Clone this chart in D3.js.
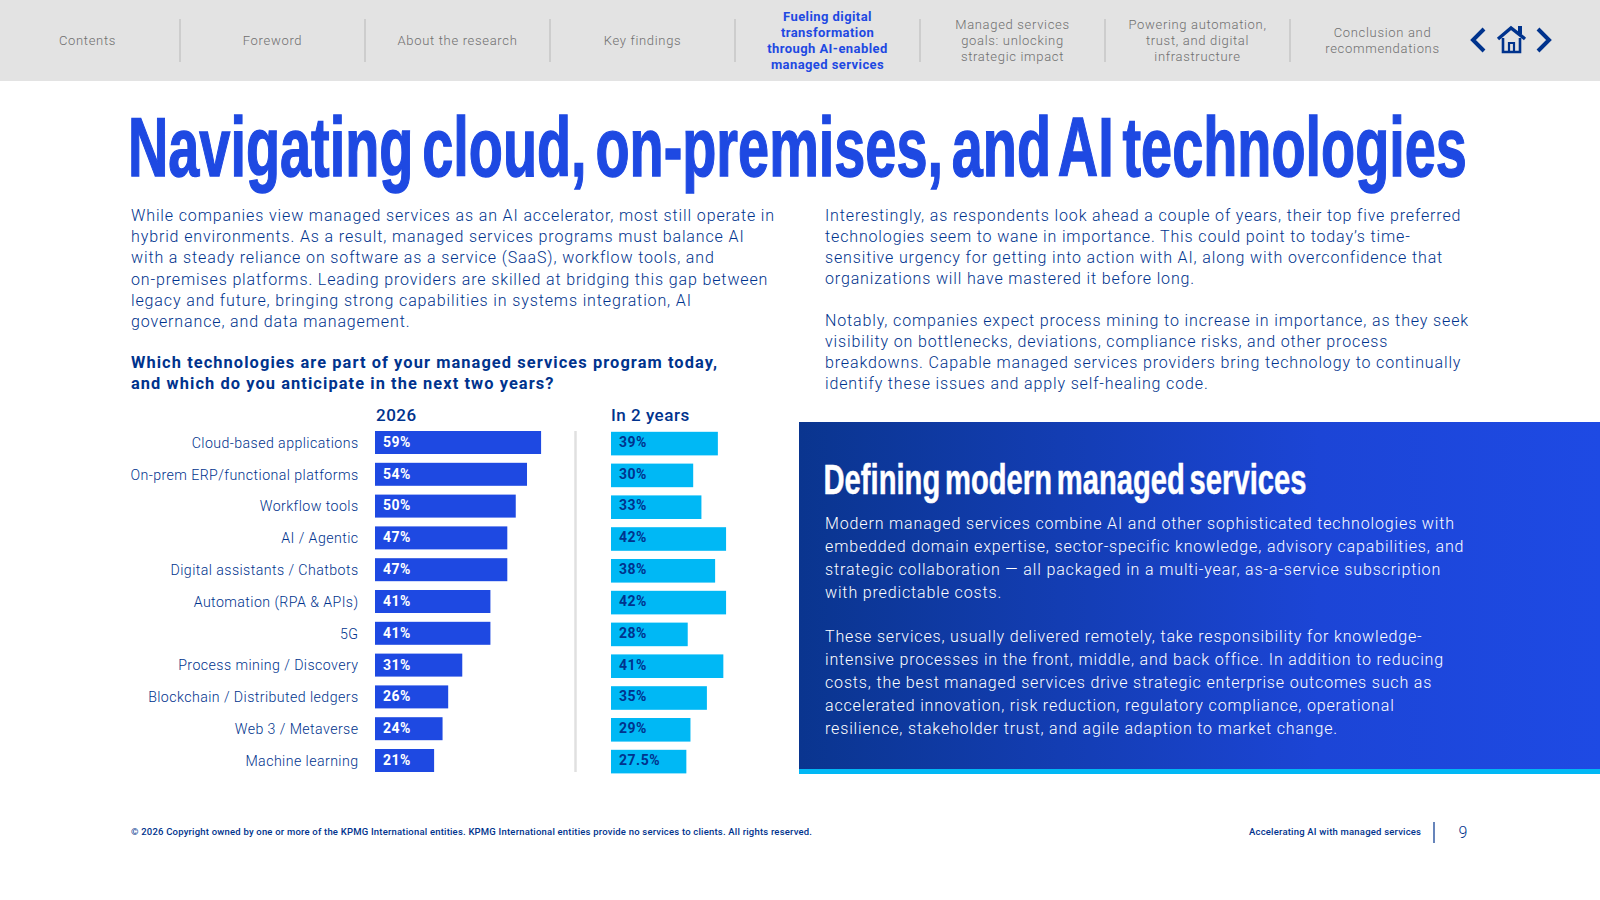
<!DOCTYPE html>
<html>
<head>
<meta charset="utf-8">
<title>Navigating cloud, on-premises, and AI technologies</title>
<script src="https://cdn.jsdelivr.net/npm/d3@7"></script>
<style>
    html, body { margin: 0; padding: 0; background: #fff; overflow: hidden; }
    svg { display: block; }
    text { font-family: Roboto, "Liberation Sans", sans-serif; }
    text.headline { font-family: "Liberation Sans", sans-serif; }
    .axis-labels .domain { display: none; }
    .axis-labels line { display: none; }
</style>
</head>
<body>
<div id="graph"></div>
<script>
const categories = ["Cloud-based applications", "On-prem ERP/functional platforms", "Workflow tools", "AI / Agentic",
    "Digital assistants / Chatbots", "Automation (RPA & APIs)", "5G", "Process mining / Discovery",
    "Blockchain / Distributed ledgers", "Web 3 / Metaverse", "Machine learning"];
const values2026 = [59, 54, 50, 47, 47, 41, 41, 31, 26, 24, 21];
const valuesIn2Years = [39, 30, 33, 42, 38, 42, 28, 41, 35, 29, 27.5];

const navItems = [["Contents"], ["Foreword"], ["About the research"], ["Key findings"],
    ["Fueling digital", "transformation", "through AI-enabled", "managed services"],
    ["Managed services", "goals: unlocking", "strategic impact"],
    ["Powering automation,", "trust, and digital", "infrastructure"],
    ["Conclusion and", "recommendations"]];
const activeNav = 4;

const introLines = ["While companies view managed services as an AI accelerator, most still operate in",
    "hybrid environments. As a result, managed services programs must balance AI",
    "with a steady reliance on software as a service (SaaS), workflow tools, and",
    "on-premises platforms. Leading providers are skilled at bridging this gap between",
    "legacy and future, bringing strong capabilities in systems integration, AI",
    "governance, and data management."];
const questionLines = ["Which technologies are part of your managed services program today,",
    "and which do you anticipate in the next two years?"];
const rightLines1 = ["Interestingly, as respondents look ahead a couple of years, their top five preferred",
    "technologies seem to wane in importance. This could point to today\u2019s time-",
    "sensitive urgency for getting into action with AI, along with overconfidence that",
    "organizations will have mastered it before long."];
const rightLines2 = ["Notably, companies expect process mining to increase in importance, as they seek",
    "visibility on bottlenecks, deviations, compliance risks, and other process",
    "breakdowns. Capable managed services providers bring technology to continually",
    "identify these issues and apply self-healing code."];
const panelLines1 = ["Modern managed services combine AI and other sophisticated technologies with",
    "embedded domain expertise, sector-specific knowledge, advisory capabilities, and",
    "strategic collaboration \u2014 all packaged in a multi-year, as-a-service subscription",
    "with predictable costs."];
const panelLines2 = ["These services, usually delivered remotely, take responsibility for knowledge-",
    "intensive processes in the front, middle, and back office. In addition to reducing",
    "costs, the best managed services drive strategic enterprise outcomes such as",
    "accelerated innovation, risk reduction, regulatory compliance, operational",
    "resilience, stakeholder trust, and agile adaption to market change."];

const width = 1600, height = 900;
const navy = "#00338d", blue = "#1e49e2", cyan = "#00b8f5";

const svg = d3.select("#graph").append("svg").attr("width", width).attr("height", height);

const defs = svg.append("defs");
const grad = defs.append("linearGradient").attr("id", "panelFill");
grad.append("stop").attr("offset", "0%").attr("stop-color", "#0a358f");
grad.append("stop").attr("offset", "65%").attr("stop-color", "#1c45d6");
grad.append("stop").attr("offset", "100%").attr("stop-color", "#1e4ae4");

// squeezes or spreads the letters so the widest line hits the measured width
function drawBlock(lines, opts) {
    const g = svg.append("g")
        .attr("fill", opts.color)
        .attr("font-size", opts.size)
        .attr("font-weight", opts.weight);
    const rows = g.selectAll("text").data(lines).enter().append("text")
        .attr("x", opts.x)
        .attr("y", (d, i) => opts.y + i * opts.leading)
        .text(d => d);
    let longest = 0, chars = 1;
    rows.each(function (d) {
        const w = this.getComputedTextLength();
        if (w > longest) { longest = w; chars = d.length; }
    });
    rows.attr("letter-spacing", (opts.fit - longest) / chars);
}

// condensed headline: no narrow heavy face is installed, so scale a bold one sideways
function drawHeadline(label, opts) {
    const t = svg.append("text")
        .attr("class", "headline")
        .attr("font-size", opts.size).attr("font-weight", 700)
        .attr("word-spacing", opts.wordSpacing)
        .attr("fill", opts.color)
        .attr("stroke", opts.color).attr("stroke-width", opts.stroke)
        .text(label);
    const k = opts.fit / t.node().getComputedTextLength();
    t.attr("transform", "translate(" + opts.x + "," + opts.y + ") scale(" + k + ",1)");
}

function drawNav() {
    svg.append("rect").attr("width", width).attr("height", 81).attr("fill", "#e3e3e3");
    const navX = d3.scaleLinear().domain([0, 1]).range([87.5, 272.5]);
    navItems.forEach((lines, i) => {
        const active = i === activeNav;
        svg.append("g").selectAll("text").data(lines).enter().append("text")
            .attr("x", navX(i))
            .attr("y", (d, j) => (active ? 44.5 : 45) + (j - (lines.length - 1) / 2) * 16)
            .attr("text-anchor", "middle")
            .attr("font-size", 13)
            .attr("letter-spacing", active ? 0.42 : 0.68)
            .attr("font-weight", active ? 700 : 300)
            .attr("fill", active ? blue : "#6f6f6f")
            .text(d => d);
        if (i < navItems.length - 1) {
            svg.append("line")
                .attr("x1", navX(i + 0.5)).attr("x2", navX(i + 0.5))
                .attr("y1", 19).attr("y2", 62)
                .attr("stroke", "#cdcdcd").attr("stroke-width", 2);
        }
    });
    const chevrons = svg.append("g").attr("fill", "none").attr("stroke", navy).attr("stroke-width", 4);
    chevrons.append("path").attr("d", "M1484,29 L1473,40 L1484,51");
    chevrons.append("path").attr("d", "M1538,29 L1549,40 L1538,51");
    const house = svg.append("g").attr("fill", "none").attr("stroke", navy);
    house.append("path").attr("stroke-width", 3.4).attr("d", "M1498,39 L1511,28 L1525,39");
    house.append("path").attr("stroke-width", 2.6).attr("d", "M1503,38 V52 H1520 V38");
    house.append("path").attr("stroke-width", 2.2).attr("d", "M1509,52 V43 H1514 V52");
    house.append("rect").attr("x", 1518).attr("y", 26).attr("width", 4).attr("height", 8).attr("fill", navy).attr("stroke", "none");
}

function drawChart() {
    const y = d3.scaleBand().domain(categories).range([431, 772]).paddingInner(0.277);
    const x1 = d3.scaleLinear().domain([0, 100]).range([375, 656.5]);
    const x2 = d3.scaleLinear().domain([0, 100]).range([611, 885]);

    svg.append("g")
        .attr("class", "axis-labels")
        .attr("transform", "translate(375,0.8)")
        .call(d3.axisLeft(y).tickSize(0).tickPadding(16.5))
        .call(g => g.selectAll("text")
            .attr("font-size", 14.2)
            .attr("font-weight", 300)
            .attr("letter-spacing", 0.42)
            .attr("fill", navy));

    svg.selectAll("rect.now").data(values2026).enter().append("rect")
        .attr("class", "now")
        .attr("x", x1(0))
        .attr("y", (d, i) => y(categories[i]))
        .attr("width", d => x1(d) - x1(0))
        .attr("height", y.bandwidth())
        .attr("fill", blue);
    svg.selectAll("rect.later").data(valuesIn2Years).enter().append("rect")
        .attr("class", "later")
        .attr("x", x2(0))
        .attr("y", (d, i) => y(categories[i]) + 0.8)
        .attr("width", d => x2(d) - x2(0))
        .attr("height", y.bandwidth() + 0.6)
        .attr("fill", cyan);

    svg.selectAll("text.now").data(values2026).enter().append("text")
        .attr("class", "now")
        .attr("x", 383)
        .attr("y", (d, i) => y(categories[i]) + y.bandwidth() / 2 + 4.4)
        .attr("font-size", 14).attr("font-weight", 700).attr("letter-spacing", 0.5)
        .attr("fill", "#fff")
        .text(d => d + "%");
    svg.selectAll("text.later").data(valuesIn2Years).enter().append("text")
        .attr("class", "later")
        .attr("x", 619)
        .attr("y", (d, i) => y(categories[i]) + y.bandwidth() / 2 + 4.4)
        .attr("font-size", 14).attr("font-weight", 700).attr("letter-spacing", 0.5)
        .attr("fill", navy)
        .text(d => d + "%");

    svg.append("line")
        .attr("x1", 575.5).attr("x2", 575.5).attr("y1", 431).attr("y2", 772)
        .attr("stroke", "#e0e0e0").attr("stroke-width", 2.5);

    svg.append("text").attr("x", 376).attr("y", 421)
        .attr("font-size", 17).attr("font-weight", 500).attr("letter-spacing", 0.5)
        .attr("fill", navy).text("2026");
    svg.append("text").attr("x", 611).attr("y", 421)
        .attr("font-size", 17).attr("font-weight", 500).attr("letter-spacing", 0.5)
        .attr("fill", navy).text("In 2 years");
}

function drawPanel() {
    svg.append("rect").attr("x", 799).attr("y", 422).attr("width", 801).attr("height", 347.5).attr("fill", "url(#panelFill)");
    svg.append("rect").attr("x", 799).attr("y", 769).attr("width", 801).attr("height", 5).attr("fill", cyan);
    drawHeadline("Defining modern managed services",
        {x: 823.5, y: 494, size: 43, fit: 483, wordSpacing: -5, color: "#fff", stroke: 0.5});
    const body = {color: "#fff", size: 16, weight: 300, x: 825, fit: 639};
    drawBlock(panelLines1, Object.assign({}, body, {y: 529, leading: 23}));
    drawBlock(panelLines2, Object.assign({y: 641.5, leading: 23}, body, {fit: 618}));
}

function drawFooter() {
    svg.append("text").attr("x", 131).attr("y", 835)
        .attr("font-size", 9.5).attr("font-weight", 500).attr("fill", navy)
        .attr("textLength", 681).attr("lengthAdjust", "spacing")
        .text("\u00a9 2026 Copyright owned by one or more of the KPMG International entities. KPMG International entities provide no services to clients. All rights reserved.");
    svg.append("text").attr("x", 1249).attr("y", 835)
        .attr("font-size", 9.5).attr("font-weight", 500).attr("fill", navy)
        .attr("textLength", 172).attr("lengthAdjust", "spacing")
        .text("Accelerating AI with managed services");
    svg.append("line").attr("x1", 1434).attr("x2", 1434).attr("y1", 822).attr("y2", 843)
        .attr("stroke", navy).attr("stroke-width", 1.2);
    svg.append("text").attr("x", 1463).attr("y", 838)
        .attr("text-anchor", "middle")
        .attr("font-size", 16).attr("font-weight", 300).attr("fill", navy).text("9");
}

drawNav();
drawHeadline("Navigating cloud, on-premises, and AI technologies",
    {x: 128, y: 176, size: 84, fit: 1339, wordSpacing: -10, color: blue, stroke: 1.4});
const para = {color: navy, size: 16, weight: 300, leading: 21, y: 221};
drawBlock(introLines, Object.assign({}, para, {x: 131, fit: 644, leading: 21.2}));
drawBlock(questionLines, {color: navy, size: 16.4, weight: 700, leading: 21, y: 368, x: 131, fit: 587});
drawBlock(rightLines1, Object.assign({}, para, {x: 825, fit: 636}));
drawBlock(rightLines2, Object.assign({}, para, {x: 825, y: 326, fit: 644}));
drawChart();
drawPanel();
drawFooter();
</script>
</body>
</html>
